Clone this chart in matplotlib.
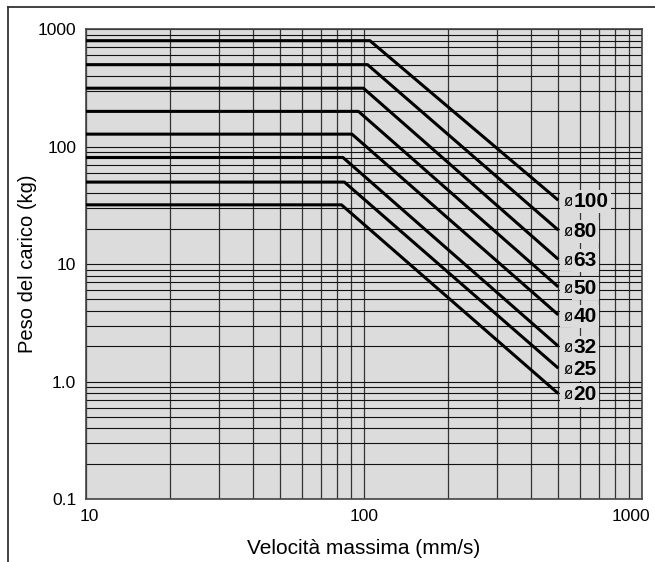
import matplotlib
matplotlib.use("Agg")
import matplotlib.pyplot as plt
from matplotlib.lines import Line2D
from matplotlib.transforms import ScaledTranslation
from matplotlib.ticker import LogLocator, FixedLocator, FixedFormatter, NullFormatter

plt.rcParams['font.family'] = ['Liberation Sans', 'DejaVu Sans']

# Data
bores = [100, 80, 63, 50, 40, 32, 25, 20]
plateau_kg = [800, 500, 315, 200, 128, 81, 50, 32]
knee_speed = [105, 103, 99.5, 95.5, 90.5, 84, 85, 83]
end_speed = [500, 500, 500, 500, 500, 500, 500, 500]
end_kg = [35, 19.5, 11, 6.4, 3.7, 2.0, 1.3, 0.79]
start_speed = 10

x_ticks = [10, 100, 1000]
x_ticklabels = ["10", "100", "1000"]
y_ticks = [0.1, 1, 10, 100, 1000]
y_ticklabels = ["0.1", "1.0", "10", "100", "1000"]

bg = "#dcdcdc"

fig = plt.figure(figsize=(6.55, 5.62), dpi=100)
ax = fig.add_axes([86/655, 1-499/562, (642-86)/655, (499-29.3)/562])
ax.set_facecolor(bg)
ax.set_xscale('log')
ax.set_yscale('log')
ax.set_xlim(10, 1000)
ax.set_ylim(0.1, 1000)

ax.xaxis.set_major_locator(FixedLocator(x_ticks))
ax.xaxis.set_major_formatter(FixedFormatter(x_ticklabels))
ax.yaxis.set_major_locator(FixedLocator(y_ticks))
ax.yaxis.set_major_formatter(FixedFormatter(y_ticklabels))
ax.xaxis.set_minor_locator(LogLocator(base=10, subs=range(2, 10)))
ax.yaxis.set_minor_locator(LogLocator(base=10, subs=range(2, 10)))
ax.xaxis.set_minor_formatter(NullFormatter())
ax.yaxis.set_minor_formatter(NullFormatter())

ax.grid(True, which='both', axis='x', color='#333333', linewidth=0.9)
ax.grid(True, which='both', axis='y', color='#111111', linewidth=0.8)
ax.set_axisbelow(True)
ax.tick_params(which='both', length=0, labelsize=12.5)
ax.tick_params(axis='x', pad=7)
ax.tick_params(axis='y', pad=7)
for s in ax.spines.values():
    s.set_color('#444444')
    s.set_linewidth(1.2)

# nudge first and last x tick labels like the reference
fig.canvas.draw()
xlabels = ax.get_xticklabels()
xlabels[0].set_transform(xlabels[0].get_transform() + ScaledTranslation(3/100, 0, fig.dpi_scale_trans))
xlabels[-1].set_transform(xlabels[-1].get_transform() + ScaledTranslation(-11.5/100, 0, fig.dpi_scale_trans))

for b, pk, kv, ev, ek in zip(bores, plateau_kg, knee_speed, end_speed, end_kg):
    ax.plot([start_speed, kv, ev], [pk, pk, ek], color='black', linewidth=2.2,
            solid_capstyle='butt', zorder=3)
    t1 = ax.annotate('ø', xy=(ev, ek), xytext=(3.5, -1), textcoords='offset points',
                     ha='left', va='center', fontsize=11.5, zorder=4,
                     bbox=dict(boxstyle='square,pad=0.2', fc=bg, ec='none'))
    ax.annotate(str(b), xy=(1, 0.5), xycoords=t1, xytext=(0.5, 0),
                textcoords='offset points', ha='left', va='center',
                fontsize=15, fontweight='bold', zorder=5,
                bbox=dict(boxstyle='square,pad=0.1', fc=bg, ec='none'))

ax.set_xlabel('Velocità massima (mm/s)', fontsize=15, labelpad=11)
ax.set_ylabel('Peso del carico (kg)', fontsize=14.5, labelpad=0.5)

# figure frame (top and left)
fig.add_artist(Line2D([8.3/655, 1], [1-7.3/562, 1-7.3/562], color='#333333', linewidth=1.3))
fig.add_artist(Line2D([8.3/655, 8.3/655], [0, 1-7.3/562], color='#333333', linewidth=1.3))

fig.savefig('out.png', dpi=100)
